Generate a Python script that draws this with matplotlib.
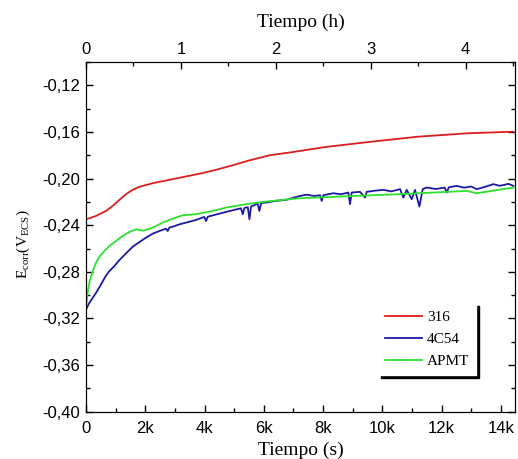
import matplotlib
matplotlib.use('Agg')
import matplotlib.pyplot as plt
from matplotlib.ticker import MultipleLocator, FuncFormatter

# ---- data ----
t_316 = [0, 337, 675, 900, 1125, 1350, 1575, 1800, 2250, 2812, 3375, 3937, 4387, 4900, 5500,
         6200, 6917, 8060, 9620, 11200, 12860, 14400]
v_316 = [-0.2350, -0.2321, -0.2278, -0.2235, -0.2183, -0.2134, -0.2097, -0.2071, -0.2040,
         -0.2011, -0.1982, -0.1953, -0.1925, -0.1890, -0.1845, -0.1800, -0.1775, -0.1730,
         -0.1684, -0.1641, -0.1612, -0.1598]

t_4c54 = [0, 112, 225, 337, 506, 675, 787, 956, 1125, 1350, 1575, 1800, 2025, 2250, 2475,
          2700, 2756, 2812, 2925, 3150, 3375, 3712, 3990, 4050, 4110, 4500, 4950, 5230, 5288,
          5346, 5400, 5460, 5513, 5570, 5790, 5850, 5910, 6075, 6400, 6750, 7000, 7220, 7450,
          7700, 7895, 7951, 8008, 8345, 8600, 8851, 8908, 8964, 9245, 9414, 9470, 9750, 10033,
          10300, 10595, 10708, 10820, 10989, 11101, 11248, 11360, 11495, 11800, 12100, 12170,
          12240, 12508, 12750, 13000, 13183, 13450, 13745, 13950, 14100, 14250, 14420]
v_4c54 = [-0.3124, -0.3067, -0.3024, -0.2981, -0.2909, -0.2832, -0.2794, -0.2751, -0.2700,
          -0.2642, -0.2585, -0.2545, -0.2507, -0.2473, -0.2450, -0.2430, -0.2450, -0.2420,
          -0.2413, -0.2393, -0.2378, -0.2355, -0.2329, -0.2364, -0.2327, -0.2301, -0.2272,
          -0.2255, -0.2306, -0.2252, -0.2249, -0.2246, -0.2349, -0.2240, -0.2215, -0.2278,
          -0.2210, -0.2206, -0.2192, -0.2183, -0.2165, -0.2149, -0.2138, -0.2150, -0.2143,
          -0.2192, -0.2143, -0.2126, -0.2135, -0.2120, -0.2220, -0.2120, -0.2114, -0.2163,
          -0.2114, -0.2104, -0.2097, -0.2110, -0.2091, -0.2163, -0.2097, -0.2177, -0.2097,
          -0.2240, -0.2091, -0.2077, -0.2090, -0.2077, -0.2120, -0.2075, -0.2063, -0.2078,
          -0.2068, -0.2091, -0.2072, -0.2048, -0.2062, -0.2055, -0.2045, -0.2063]

t_apmt = [0, 56, 112, 225, 337, 450, 619, 787, 1012, 1237, 1462, 1687, 1800, 1912, 2081, 2250,
          2587, 2925, 3262, 3712, 4275, 4725, 5400, 6075, 7220, 9000, 10595, 12845, 13183, 14420]
v_apmt = [-0.3096, -0.2981, -0.2895, -0.2794, -0.2723, -0.2671, -0.2622, -0.2579, -0.2536,
          -0.2493, -0.2459, -0.2436, -0.2441, -0.2447, -0.2436, -0.2421, -0.2378, -0.2344,
          -0.2315, -0.2306, -0.2278, -0.2249, -0.2220, -0.2197, -0.2169, -0.2150, -0.2134,
          -0.2106, -0.2126, -0.2077]

series_labels = ['316', '4C54', 'APMT']
series_colors = ['#dc1e1e', '#1a1aa6', '#2ee02e']

yticks = [-0.40, -0.36, -0.32, -0.28, -0.24, -0.20, -0.16, -0.12]
xticks = [0, 2000, 4000, 6000, 8000, 10000, 12000, 14000]
top_ticks = [0, 1, 2, 3, 4]

SANS = 'Liberation Sans'
SERIF = 'Liberation Serif'
plt.rcParams['mathtext.fontset'] = 'custom'
plt.rcParams['mathtext.rm'] = SERIF
plt.rcParams['mathtext.it'] = SERIF

fig = plt.figure(figsize=(5.18, 4.59), dpi=100)
ax = fig.add_axes([0.166, 0.103, 0.828, 0.762])

for t, v, lab, c in zip([t_316, t_4c54, t_apmt], [v_316, v_4c54, v_apmt], series_labels, series_colors):
    ax.plot(t, v, color=c, lw=1.3, label=lab)

ax.set_xlim(0, 14470)
ax.set_ylim(-0.40, -0.10)
ax.set_xticks(xticks)
ax.xaxis.set_minor_locator(MultipleLocator(1000))
ax.set_yticks(yticks)
ax.yaxis.set_minor_locator(MultipleLocator(0.02))
ax.xaxis.set_major_formatter(FuncFormatter(lambda x, p: '0' if x == 0 else f'{int(round(x / 1000))}k'))
ax.yaxis.set_major_formatter(FuncFormatter(lambda y, p: f'{y:.2f}'.replace('.', ',')))
ax.tick_params(which='both', direction='in', top=False, right=True, width=1)
ax.tick_params(which='major', length=5, labelsize=12)
ax.tick_params(which='minor', length=3)
ax.tick_params(axis='x', which='major', pad=7)
ax.tick_params(axis='y', which='major', pad=4.5)
for lbl in ax.get_xticklabels() + ax.get_yticklabels():
    lbl.set_fontfamily(SANS)

ax.set_xlabel('Tiempo (s)', fontfamily=SERIF, fontsize=14, labelpad=4)
ax.set_ylabel(r'E$_{\mathrm{corr}}$(V$_{\mathrm{ECS}}$)', fontfamily=SERIF, fontsize=11)
ax.yaxis.set_label_coords(-0.125, 0.48)

ax2 = ax.twiny()
ax2.set_xlim(0, 4.52)
ax2.set_xticks(top_ticks)
ax2.xaxis.set_minor_locator(MultipleLocator(0.5))
ax2.tick_params(which='both', direction='in', width=1)
ax2.tick_params(which='major', length=5, labelsize=12)
ax2.tick_params(which='minor', length=3)
for lbl in ax2.get_xticklabels():
    lbl.set_fontfamily(SANS)
ax2.set_xlabel('Tiempo (h)', fontfamily=SERIF, fontsize=14, labelpad=11)

leg = ax.legend(loc='lower right', bbox_to_anchor=(0.910, 0.104), borderaxespad=0,
                frameon=True, fancybox=False, shadow={'color': 'black', 'alpha': 1},
                edgecolor='white', framealpha=1, handlelength=2.4, handletextpad=0.35,
                labelspacing=0.55, borderpad=0.45, prop={'family': SERIF, 'size': 11})

fig.savefig('out.png', dpi=100)
